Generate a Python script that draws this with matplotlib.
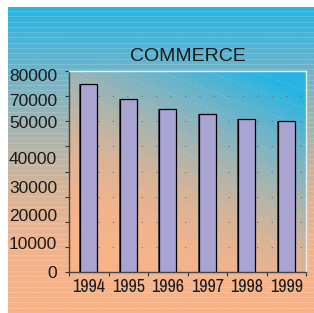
import matplotlib.pyplot as plt
from matplotlib.colors import LinearSegmentedColormap
import numpy as np

# Commerce totals per year
years = ["1994", "1995", "1996", "1997", "1998", "1999"]
commerce = [75000, 69000, 65000, 63000, 61000, 60000]

# y tick labels; in the original the text sits a bit off its ticks (and 60000 is missing)
ytick_vals = [0, 10000, 20000, 30000, 40000, 50000, 60000, 70000, 80000]
ylabel_text = ["0", "10000", "20000", "30000", "40000", "50000", "70000", "80000"]
ylabel_pos = [0, 11500, 22700, 33800, 45400, 59700, 68500, 78400]

plt.rcParams['font.family'] = ['Liberation Sans', 'DejaVu Sans']

# peach at the bottom -> blue at the top
bg_cmap = LinearSegmentedColormap.from_list(
    "bg", ["#f8b387", "#f2b38c", "#d8b497", "#a6b4b0", "#6db4ca", "#28b4e3"])

fig = plt.figure(figsize=(3.14, 3.13), dpi=100)
fig.patch.set_facecolor("white")

# background panel with faint white stripes
bg = fig.add_axes([8 / 314, 0, 306 / 314, 306 / 313])
grad = np.linspace(0, 1, 256).reshape(-1, 1)
bg.imshow(grad, cmap=bg_cmap, aspect="auto", origin="lower", extent=[0, 1, 0, 1])
for yy in np.arange(0.0, 1.0, 5.3 / 306):
    bg.axhline(yy, color="white", alpha=0.15, lw=0.7)
bg.set_xlim(0, 1)
bg.set_ylim(0, 1)
bg.axis("off")

ax = fig.add_axes([69 / 314, 41 / 313, 237 / 314, 201 / 313])
ax.yaxis.remove_overlapping_locs = False

# diagonal gradient inside the plot area
xx, yy = np.meshgrid(np.linspace(0, 1, 200), np.linspace(0, 1, 200))
tt = np.clip(0.45 * xx + 0.75 * yy - 0.1, 0, 1)
ax.imshow(tt, cmap=bg_cmap, aspect="auto", origin="lower",
          extent=[0, 1, 0, 1], transform=ax.transAxes, zorder=0)
for c in np.arange(0.0, 2.0, 0.09):
    ax.plot([0, 1], [c, c - 0.45], transform=ax.transAxes, color="white",
            alpha=0.15, lw=0.6, ls=(0, (4, 3)), zorder=0.5)

x = np.arange(len(years))
# dark shadow offset to the left, then the bar itself
ax.bar(x - 0.03, commerce, width=0.42, color="#4a4a55", zorder=2)
ax.bar(x, commerce, width=0.42, color="#aaa4d2", edgecolor="black", lw=0.9, zorder=3)

ax.set_xlim(-0.5, len(years) - 0.5)
ax.set_ylim(0, 80000)

for v in ytick_vals[1:-1]:
    ax.axhline(v, color="#555555", lw=0.8, ls=(0, (1, 12)), alpha=0.7, zorder=1)

ax.set_yticks(ytick_vals)
ax.set_yticklabels([])
ax.set_yticks(ylabel_pos, ylabel_text, minor=True)
ax.tick_params(axis="y", which="major", length=3, width=0.8, color="#333333", direction="out")
ax.tick_params(axis="y", which="minor", length=0, pad=8.5, labelsize=12.5, labelcolor="#1a1a1a")

ax.set_xticks(np.arange(len(years) + 1) - 0.5)
ax.set_xticklabels([])
ax.set_xticks(x, years, minor=True, family=['Archivo Narrow', 'Liberation Sans'])
ax.tick_params(axis="x", which="major", length=3, width=0.8, color="#333333", direction="out")
ax.tick_params(axis="x", which="minor", length=0, pad=5, labelsize=13, labelcolor="#1a1a1a")

ax.spines["left"].set_color("#444444")
ax.spines["bottom"].set_color("#444444")
ax.spines["top"].set_color("#e8eef0")
ax.spines["right"].set_color("#e8eef0")
for s in ax.spines.values():
    s.set_linewidth(1.0)

ax.set_title("COMMERCE", fontsize=14, color="#1a1a1a", pad=7)

fig.savefig("out.png", dpi=100)
